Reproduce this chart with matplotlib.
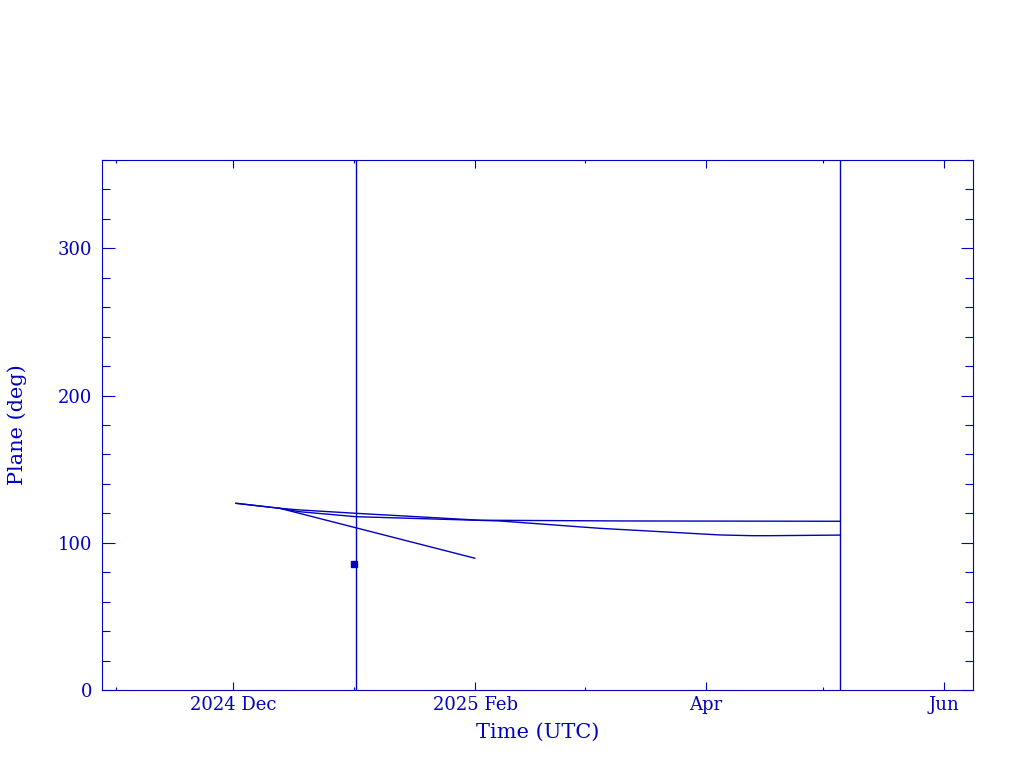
#!/usr/bin/env python
"""Orbital plane vs time, PGPLOT-like look."""

import matplotlib
matplotlib.use('Agg')
import matplotlib.pyplot as plt
import matplotlib.dates as mdates
import pandas as pd
from matplotlib.ticker import MultipleLocator, FixedLocator

BLUE = '#0000c0'

# tracks
steep_dates = ['2024-12-01 19:00', '2024-12-13 00:00', '2025-01-31 22:00']
steep_plane = [126.8, 123.4, 89.5]

upper_dates = ['2024-12-01 19:00', '2024-12-13 00:00', '2024-12-18 00:00',
               '2025-01-01 12:00', '2025-02-02 05:00', '2025-03-10 19:00',
               '2025-05-05 10:00']
upper_plane = [126.8, 123.4, 122.3, 120.0, 115.3, 114.8, 114.6]

lower_dates = ['2024-12-13 00:00', '2024-12-18 00:00', '2025-01-01 12:00',
               '2025-02-07 07:00', '2025-03-04 22:00', '2025-04-04 15:00',
               '2025-04-12 20:00', '2025-04-17 10:00', '2025-05-05 10:00']
lower_plane = [123.4, 121.1, 117.7, 114.8, 109.8, 105.3, 104.8, 104.8, 105.2]

point_date = ['2025-01-01 00:00']
point_plane = [85.6]

event_dates = ['2025-01-01 12:00', '2025-05-05 10:00']

major_ticks = ['2024-12-01', '2025-02-01', '2025-04-01', '2025-06-01']
major_labels = ['2024 Dec', '2025 Feb', 'Apr', 'Jun']
minor_ticks = ['2024-11-01', '2025-01-01', '2025-03-01', '2025-05-01']

plt.rcParams['font.family'] = ['DejaVu Serif']

fig = plt.figure(figsize=(10.24, 7.68), dpi=100)
ax = fig.add_axes([0.0996, 0.1016, 0.8506, 0.6901])

for d, p in [(steep_dates, steep_plane), (upper_dates, upper_plane),
             (lower_dates, lower_plane)]:
    ax.plot(pd.to_datetime(d), p, color=BLUE, lw=1.0)

ax.plot(pd.to_datetime(point_date), point_plane, 's', color=BLUE,
        ms=4, mfc=BLUE, mec=BLUE)

for d in event_dates:
    ax.axvline(pd.to_datetime(d), color=BLUE, lw=1.0)

ax.set_xlim(pd.to_datetime('2024-10-28 12:00'), pd.to_datetime('2025-06-08 10:00'))
ax.set_ylim(0, 360)

ax.xaxis.set_major_locator(FixedLocator(mdates.date2num(pd.to_datetime(major_ticks))))
ax.xaxis.set_minor_locator(FixedLocator(mdates.date2num(pd.to_datetime(minor_ticks))))
ax.set_xticklabels(major_labels)
ax.yaxis.set_major_locator(MultipleLocator(100))
ax.yaxis.set_minor_locator(MultipleLocator(20))

ax.tick_params(axis='both', which='both', direction='in', top=True, right=True,
               color=BLUE, labelcolor=BLUE, width=0.8, labelsize=13)
ax.tick_params(axis='x', which='major', length=5.5, pad=4)
ax.tick_params(axis='x', which='minor', length=2.5)
ax.tick_params(axis='y', which='major', length=9, pad=7)
ax.tick_params(axis='y', which='minor', length=5.5)

for s in ax.spines.values():
    s.set_color(BLUE)
    s.set_linewidth(0.8)

ax.set_xlabel('Time (UTC)', color=BLUE, fontsize=15, labelpad=7)
ax.set_ylabel('Plane (deg)', color=BLUE, fontsize=15, labelpad=22)

fig.savefig('out.png', dpi=100)
